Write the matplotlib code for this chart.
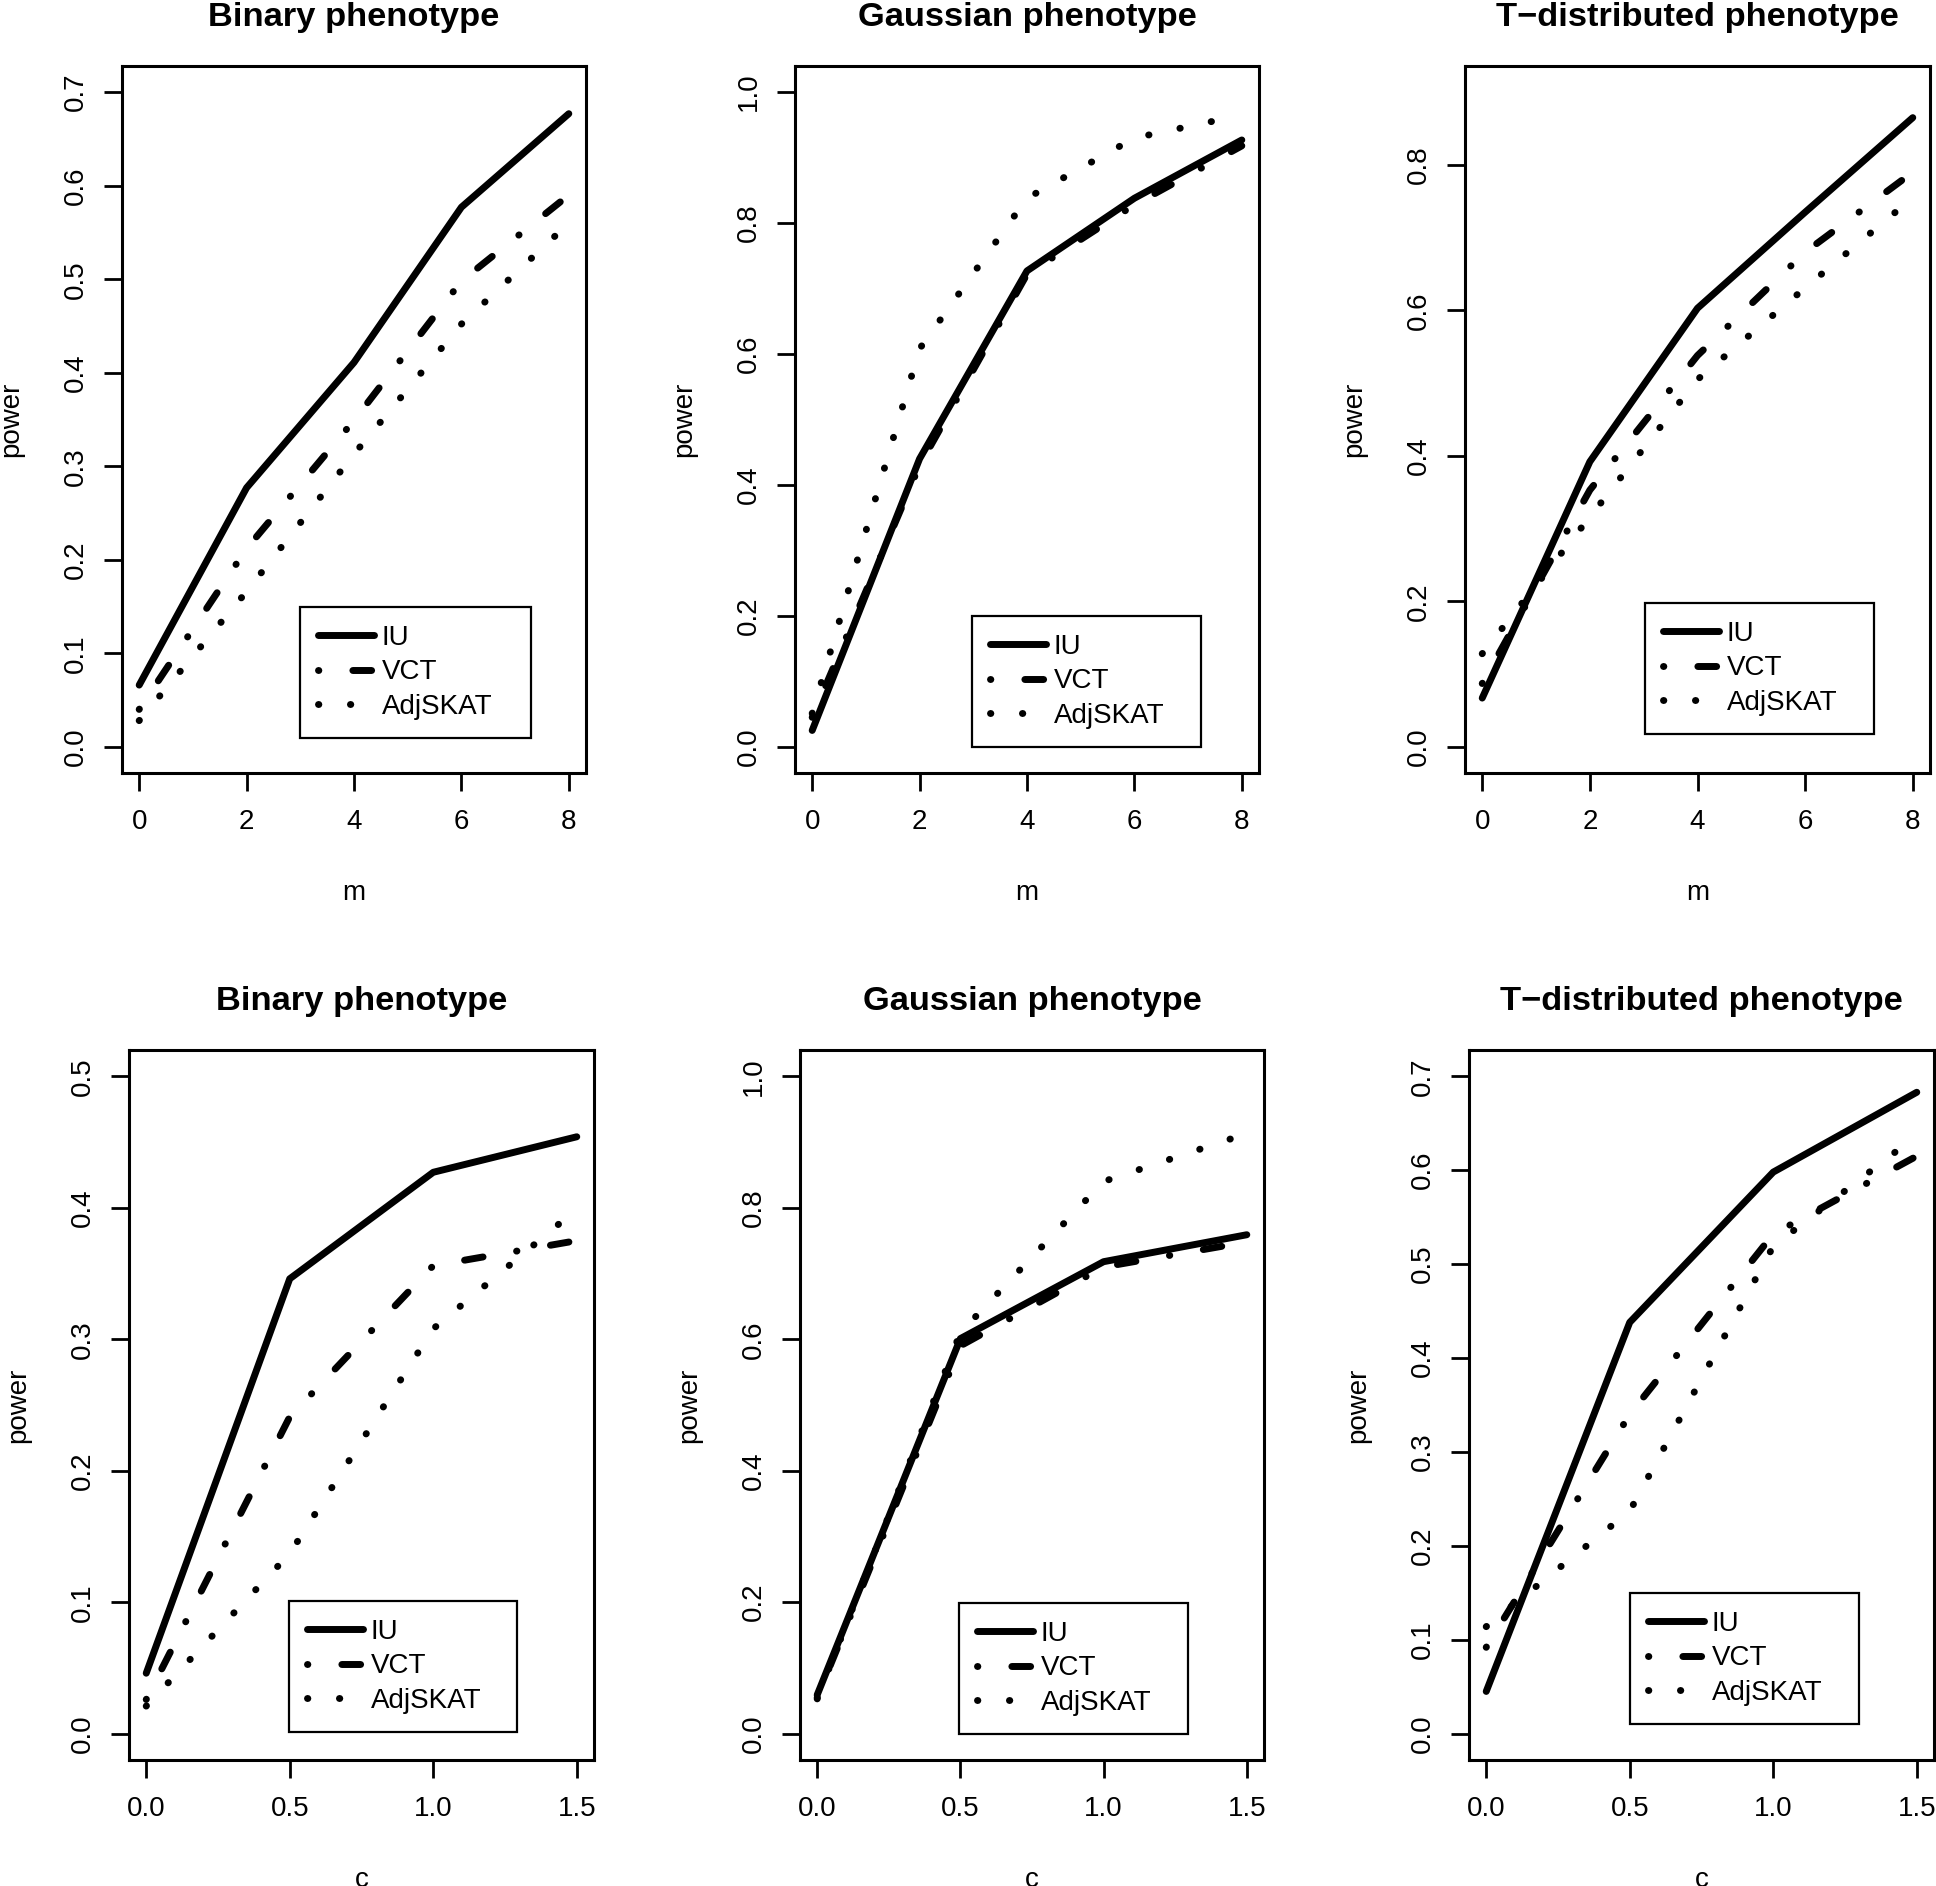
import matplotlib
matplotlib.use("Agg")
import matplotlib.pyplot as plt
from matplotlib.transforms import offset_copy

plt.rcParams["font.family"] = ["Liberation Sans", "DejaVu Sans"]

# x grids
m_vals = [0, 2, 4, 6, 8]
c_vals = [0.0, 0.5, 1.0, 1.5]
methods = ["IU", "VCT", "AdjSKAT"]

# power as a function of m
binary_m_iu = [0.066, 0.277, 0.411, 0.577, 0.677]
binary_m_vct = [0.040, 0.212, 0.349, 0.498, 0.590]
binary_m_adj = [0.028, 0.166, 0.313, 0.452, 0.560]

gauss_m_iu = [0.025, 0.440, 0.727, 0.838, 0.927]
gauss_m_vct = [0.045, 0.430, 0.722, 0.828, 0.918]
gauss_m_adj = [0.051, 0.608, 0.838, 0.930, 0.965]

tdist_m_iu = [0.067, 0.392, 0.603, 0.735, 0.865]
tdist_m_vct = [0.087, 0.353, 0.538, 0.680, 0.790]
tdist_m_adj = [0.128, 0.316, 0.505, 0.631, 0.755]

# power as a function of c
binary_c_iu = [0.046, 0.346, 0.427, 0.454]
binary_c_vct = [0.026, 0.241, 0.356, 0.375]
binary_c_adj = [0.021, 0.137, 0.308, 0.399]

gauss_c_iu = [0.059, 0.601, 0.718, 0.759]
gauss_c_vct = [0.055, 0.590, 0.710, 0.748]
gauss_c_adj = [0.053, 0.610, 0.840, 0.913]

tdist_c_iu = [0.045, 0.438, 0.598, 0.683]
tdist_c_vct = [0.092, 0.340, 0.532, 0.615]
tdist_c_adj = [0.114, 0.237, 0.519, 0.637]

titles = ["Binary phenotype", "Gaussian phenotype", "T\u2212distributed phenotype"]

W, H = 1936, 1886
fig = plt.figure(figsize=(W / 100, H / 100), dpi=100)

# R-like line types (in units of line width)
styles = {
    "IU": "-",
    "VCT": (0, (0.05, 4.9, 2.7, 4.9)),
    "AdjSKAT": (0, (0.05, 4.55)),
}
LW = 5.0

# panel boxes in pixels: left, top, right, bottom ; legend box: left, top, right
panels = [
    dict(x=m_vals, xl="m", ys=[binary_m_iu, binary_m_vct, binary_m_adj], ymax=0.7, ystep=0.1,
         box=(122, 66, 586, 773), leg=(300, 607, 531), title=titles[0]),
    dict(x=m_vals, xl="m", ys=[gauss_m_iu, gauss_m_vct, gauss_m_adj], ymax=1.0, ystep=0.2,
         box=(795, 66, 1259, 773), leg=(972, 616, 1201), title=titles[1]),
    dict(x=m_vals, xl="m", ys=[tdist_m_iu, tdist_m_vct, tdist_m_adj], ymax=0.9, ystep=0.2,
         box=(1465, 66, 1930, 773), leg=(1645, 603, 1874), title=titles[2]),
    dict(x=c_vals, xl="c", ys=[binary_c_iu, binary_c_vct, binary_c_adj], ymax=0.5, ystep=0.1,
         box=(129, 1050, 594, 1760), leg=(289, 1601, 517), title=titles[0]),
    dict(x=c_vals, xl="c", ys=[gauss_c_iu, gauss_c_vct, gauss_c_adj], ymax=1.0, ystep=0.2,
         box=(800, 1050, 1264, 1760), leg=(959, 1603, 1188), title=titles[1]),
    dict(x=c_vals, xl="c", ys=[tdist_c_iu, tdist_c_vct, tdist_c_adj], ymax=0.7, ystep=0.1,
         box=(1469, 1050, 1934, 1760), leg=(1630, 1593, 1859), title=titles[2]),
]

for p in panels:
    l, t, r, b = p["box"]
    ax = fig.add_axes([l / W, 1 - b / H, (r - l) / W, (b - t) / H])
    x = p["x"]
    for name, y in zip(methods, p["ys"]):
        ax.plot(x, y, color="black", lw=LW, linestyle=styles[name], label=name,
                dash_capstyle="round", solid_capstyle="round", solid_joinstyle="round")

    # R's default 4% axis expansion
    xr = x[-1] - x[0]
    ax.set_xlim(x[0] - 0.04 * xr, x[-1] + 0.04 * xr)
    ax.set_ylim(-0.04 * p["ymax"], p["ymax"] * 1.04)
    ax.set_xticks(x)
    if x is c_vals:
        ax.set_xticklabels([f"{v:.1f}" for v in x])
    else:
        ax.set_xticklabels([str(v) for v in x])
    n = int(round(p["ymax"] / p["ystep"]))
    if p["ymax"] == 0.9:
        n = 4
    yt = [round(i * p["ystep"], 2) for i in range(n + 1)]
    ax.set_yticks(yt)
    ax.set_yticklabels([f"{v:.1f}" for v in yt], rotation=90, va="center")

    for s in ax.spines.values():
        s.set_linewidth(2.2)
    ax.tick_params(direction="out", length=13, width=2, labelsize=20)
    ax.tick_params(axis="x", pad=13)
    ax.tick_params(axis="y", pad=11)

    ax.text(0.5, 1.0, p["title"], transform=offset_copy(ax.transAxes, fig, x=0, y=40, units="dots"),
            ha="center", va="baseline", fontsize=24.8, fontweight="bold")
    ax.text(0.5, 0.0, p["xl"], transform=offset_copy(ax.transAxes, fig, x=0, y=-120, units="dots"),
            ha="center", va="center", fontsize=20)
    ax.text(0.0, 0.5, "power", transform=offset_copy(ax.transAxes, fig, x=-111, y=0, units="dots"),
            ha="center", va="center", rotation=90, fontsize=20)

    ll, lt, lr = p["leg"]
    leg = ax.legend(loc="upper left", bbox_to_anchor=(ll / W, 1 - lt / H - 0.1, (lr - ll) / W, 0.1),
                    bbox_transform=fig.transFigure, mode="expand", fontsize=20,
                    handlelength=2.0, handletextpad=0.3, labelspacing=0.3, borderpad=0.65,
                    borderaxespad=0, fancybox=False, framealpha=1, edgecolor="black")
    leg.get_frame().set_linewidth(1.6)

fig.savefig("out.png", dpi=100)
